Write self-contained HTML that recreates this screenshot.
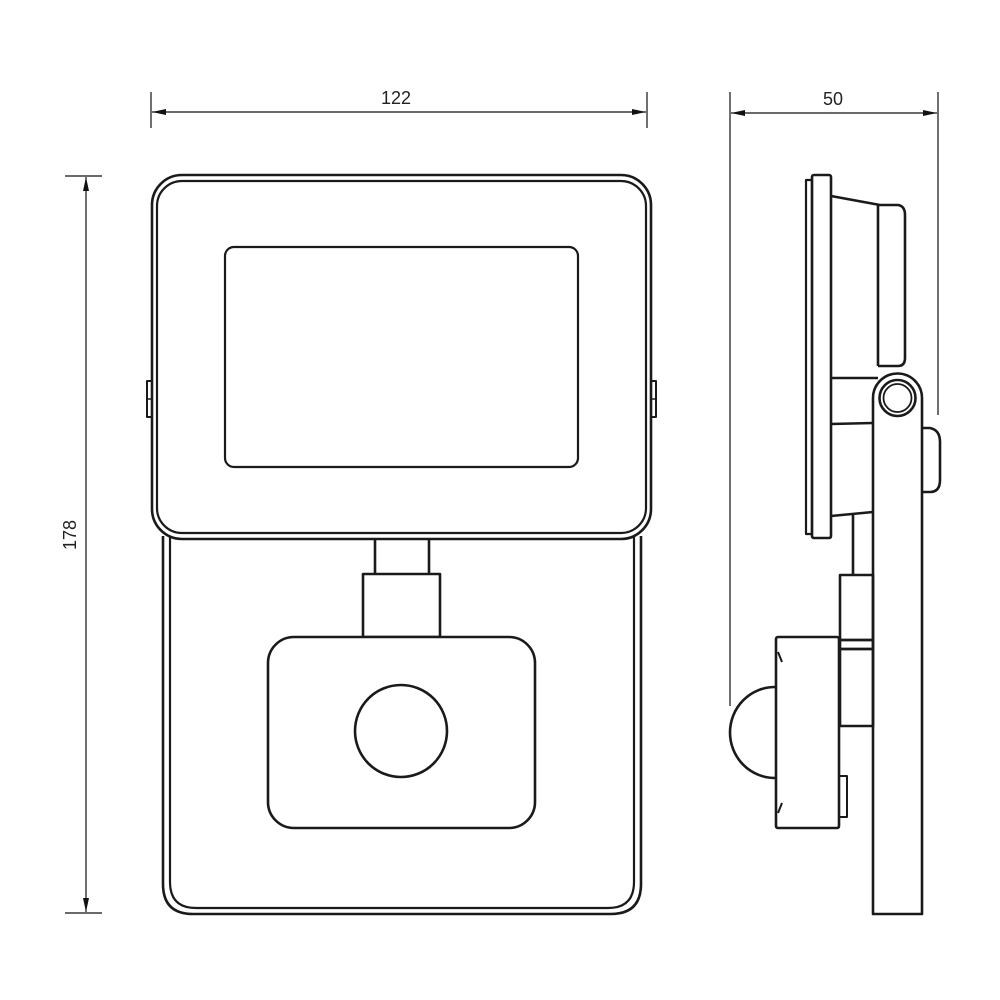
<!DOCTYPE html>
<html><head><meta charset="utf-8"><style>
html,body{margin:0;padding:0;background:#fff;}
svg{display:block;}
text{font-family:"Liberation Sans",sans-serif;font-size:18px;fill:#222;}
</style></head><body>
<svg width="1000" height="1000" viewBox="0 0 1000 1000" xmlns="http://www.w3.org/2000/svg">
<defs>
<marker id="a" viewBox="0 0 14 6" refX="14" refY="3" markerWidth="14" markerHeight="6" markerUnits="userSpaceOnUse" orient="auto-start-reverse"><path d="M14,3 L0,0 L0,6 Z" fill="#111"/></marker>
</defs>
<g stroke="#111" stroke-width="1.2" fill="none">
<line x1="151" y1="92" x2="151" y2="128"/>
<line x1="647" y1="92" x2="647" y2="128"/>
<line x1="152" y1="112" x2="646" y2="112" marker-start="url(#a)" marker-end="url(#a)"/>
<line x1="65" y1="176" x2="102" y2="176"/>
<line x1="65" y1="913" x2="102" y2="913"/>
<line x1="86" y1="177" x2="86" y2="912" marker-start="url(#a)" marker-end="url(#a)"/>
<line x1="730" y1="92" x2="730" y2="706"/>
<line x1="938" y1="92" x2="938" y2="415"/>
<line x1="731" y1="113" x2="937" y2="113" marker-start="url(#a)" marker-end="url(#a)"/>
</g>
<text x="396" y="104" text-anchor="middle">122</text>
<text x="833" y="105" text-anchor="middle">50</text>
<text transform="translate(76,535) rotate(-90)" text-anchor="middle">178</text>

<g stroke="#1a1a1a" stroke-width="2.6" fill="none" stroke-linejoin="round">
<path d="M163,536 V884 Q163,914 193,914 H611 Q641,914 641,884 V536"/>
<path d="M170,536 V882 Q170,908 196,908 H608 Q634,908 634,882 V536" stroke-width="2.2"/>
<rect x="152" y="175" width="499" height="364" rx="30" fill="#fff"/>
<rect x="157" y="181" width="489" height="352" rx="25" stroke-width="2.2"/>
<rect x="147" y="381" width="5" height="36" stroke-width="2"/>
<line x1="147" y1="399" x2="152" y2="399" stroke-width="1.5"/>
<rect x="651" y="381" width="5" height="36" stroke-width="2"/>
<line x1="651" y1="399" x2="656" y2="399" stroke-width="1.5"/>
<rect x="225" y="247" width="353" height="220" rx="9" stroke-width="2.2"/>
<line x1="375" y1="540" x2="375" y2="574"/>
<line x1="429" y1="540" x2="429" y2="574"/>
<rect x="363" y="574" width="77" height="63"/>
<rect x="268" y="637" width="267" height="191" rx="26" fill="#fff"/>
<circle cx="401" cy="731" r="46"/>

<rect x="806" y="180" width="6" height="354" stroke-width="2.2"/>
<rect x="812" y="175" width="19" height="363" rx="2"/>
<path d="M831,196 L880,205 H898 Q905,206 905,215 V358 Q905,366 898,366 H878"/>
<line x1="878" y1="205" x2="878" y2="366"/>
<line x1="831" y1="378" x2="878" y2="378"/>
<line x1="831" y1="424" x2="873" y2="423"/>
<line x1="831" y1="516" x2="873" y2="512"/>
<path d="M922,428 H930 Q940,430 940,442 V480 Q940,492 930,492 H922"/>
<path d="M873,914 V398 A24.5,24.5 0 0 1 922,398 V914 Z" fill="#fff"/>
<circle cx="897.5" cy="398" r="18"/>
<circle cx="897.5" cy="398" r="14" stroke-width="1.8"/>
<line x1="853" y1="514" x2="853" y2="575"/>
<rect x="840" y="575" width="33" height="65"/>
<rect x="840" y="640" width="33" height="9"/>
<rect x="840" y="649" width="33" height="77"/>
<rect x="776" y="637" width="63" height="191" rx="2" fill="#fff"/>
<path d="M775,687 A45,45.5 0 0 0 775,778"/>
<rect x="839" y="776" width="8" height="41" stroke-width="2"/>
<path d="M778,652 L782,662 M778,813 L782,803" stroke-width="2"/>
</g>
</svg>
</body></html>
